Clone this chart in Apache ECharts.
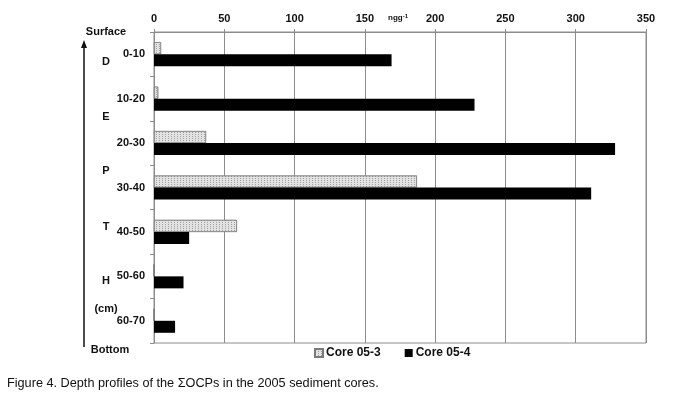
<!DOCTYPE html>
<html>
<head>
<meta charset="utf-8">
<script src="https://cdn.jsdelivr.net/npm/echarts@6/dist/echarts.min.js"></script>
<style>
  html, body { margin: 0; padding: 0; background: #fff; }
  #chart { width: 681px; height: 397px; }
</style>
</head>
<body>
<div id="chart"></div>
<script>
// depth intervals (cm) and ΣOCPs (ng g-1)
const depths = ["0-10", "10-20", "20-30", "30-40", "40-50", "50-60", "60-70"];
const core053 = [5, 3, 37, 187, 59, 0, 0];
const core054 = [169, 228, 328, 311, 25, 21, 15];
const xTicks = { min: 0, max: 350, step: 50 };

const chart = echarts.init(document.getElementById("chart"));
const font = "Liberation Sans, Arial, sans-serif";
const lineGrey = "#8c8c8c";
const sideText = (x, y, text) => ({
  type: "text", x, y,
  style: { text, font: "bold 11px " + font, fill: "#111", align: "center", verticalAlign: "middle" }
});

chart.setOption({
  animation: false,
  grid: { left: 154, right: 35, top: 32, bottom: 54, show: true, borderColor: lineGrey, borderWidth: 1 },
  legend: {
    bottom: 33, left: 309,
    itemWidth: 8, itemHeight: 8, itemGap: 24,
    icon: "rect",
    textStyle: { fontFamily: font, fontWeight: "bold", fontSize: 12, color: "#111", padding: [0, 0, 0, -2] },
    data: ["Core 05-3", "Core 05-4"]
  },
  xAxis: {
    type: "value", position: "top",
    min: xTicks.min, max: xTicks.max, interval: xTicks.step,
    axisLine: { show: true, lineStyle: { color: lineGrey } },
    axisTick: { show: true, length: 3, lineStyle: { color: lineGrey } },
    axisLabel: { fontFamily: font, fontWeight: "bold", fontSize: 11, color: "#111", margin: 8 },
    splitLine: { show: true, lineStyle: { color: lineGrey, width: 1 } }
  },
  yAxis: {
    type: "category", inverse: true, data: depths,
    axisLine: { show: true, lineStyle: { color: lineGrey } },
    axisTick: { show: true, length: 4, lineStyle: { color: lineGrey } },
    axisLabel: { fontFamily: font, fontWeight: "bold", fontSize: 11, color: "#111", margin: 9 }
  },
  series: [
    {
      name: "Core 05-3", type: "bar", data: core053,
      barWidth: 12, barGap: "0%",
      itemStyle: {
        color: "#e2e2e2", borderColor: "#7a7a7a", borderWidth: 0.6,
        decal: { symbol: "rect", symbolSize: 1, color: "rgba(110,110,110,0.55)", dashArrayX: [1, 2], dashArrayY: [1, 1], rotation: 0 }
      }
    },
    {
      name: "Core 05-4", type: "bar", data: core054,
      barWidth: 12,
      itemStyle: { color: "#000" }
    }
  ],
  graphic: [
    sideText(106, 32, "Surface"),
    sideText(110, 350, "Bottom"),
    sideText(106, 62, "D"),
    sideText(106, 117, "E"),
    sideText(106, 171, "P"),
    sideText(106, 227, "T"),
    sideText(106, 281, "H"),
    sideText(106, 309, "(cm)"),
    { type: "line", shape: { x1: 84, y1: 46, x2: 84, y2: 347 }, style: { stroke: "#111", lineWidth: 1.5 } },
    { type: "polygon", shape: { points: [[84, 40], [81, 48], [87, 48]] }, style: { fill: "#111" } },
    {
      type: "text", x: 388, y: 18,
      style: {
        text: "{a|ngg}{b|-1}", verticalAlign: "middle",
        rich: {
          a: { font: "bold 8px " + font, fill: "#111" },
          b: { font: "bold 6px " + font, fill: "#111", verticalAlign: "top", padding: [0, 0, 4, 0] }
        }
      }
    },
    {
      type: "text", x: 7, y: 383,
      style: { text: "Figure 4. Depth profiles of the ΣOCPs in the 2005 sediment cores.", font: "12.7px " + font, fill: "#111", verticalAlign: "middle" }
    }
  ]
});
</script>
</body>
</html>
